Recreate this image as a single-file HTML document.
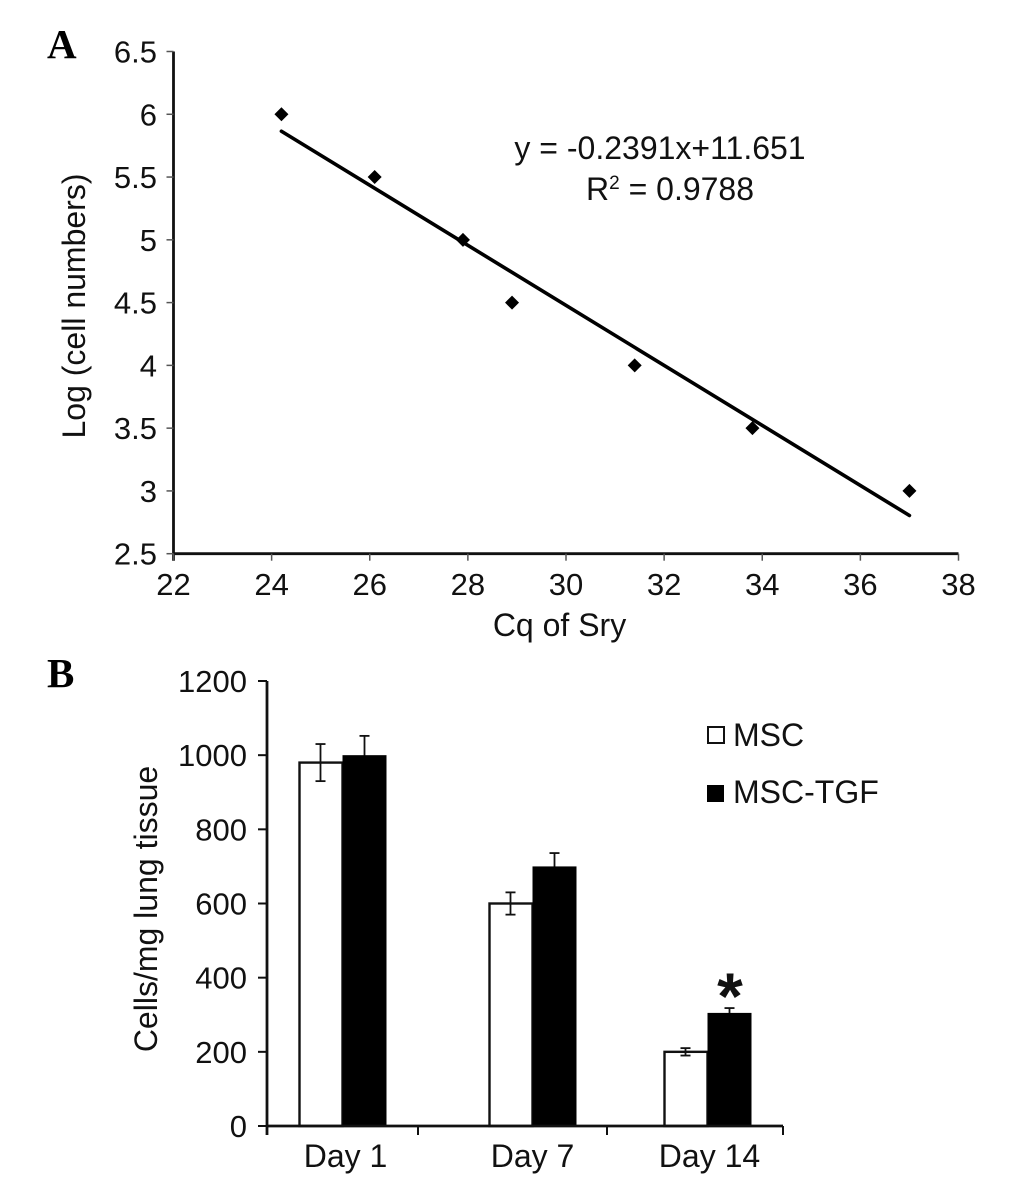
<!DOCTYPE html>
<html lang="en">
<head>
<meta charset="utf-8">
<title>Cell number standard curve and lung tissue cell counts</title>
<style>
html,body{margin:0;padding:0;background:#fff;}
svg{display:block;}
text{font-family:"Liberation Sans",sans-serif;fill:#111;}
.panel{font-family:"Liberation Serif",serif;font-weight:bold;font-size:41px;fill:#000;}
.t{font-size:31px;}
.h{font-size:32px;}
</style>
</head>
<body>
<svg id="fig" width="1033" height="1186" viewBox="0 0 1033 1186" xmlns="http://www.w3.org/2000/svg">
  <text class="panel" x="47" y="58">A</text>
  <text class="panel" x="47" y="687">B</text>
  <g id="chartA"></g>
  <text class="h" x="660" y="159" text-anchor="middle">y = -0.2391x+11.651</text>
  <text class="h" x="670" y="200" text-anchor="middle">R<tspan font-size="19" dy="-11">2</tspan><tspan dy="11"> = 0.9788</tspan></text>
  <text class="h" x="559.5" y="636" text-anchor="middle">Cq of Sry</text>
  <text class="h" transform="translate(85,306) rotate(-90)" text-anchor="middle">Log (cell numbers)</text>
  <g id="chartB"></g>
  <text class="h" transform="translate(157,909) rotate(-90)" text-anchor="middle">Cells/mg lung tissue</text>
  <rect x="708" y="727" width="16" height="16" fill="#fff" stroke="#111" stroke-width="2"></rect>
  <text class="h" x="733" y="746">MSC</text>
  <rect x="707" y="785" width="17" height="17" fill="#000"></rect>
  <text class="h" x="733" y="803">MSC-TGF</text>
  <text x="730" y="1019" text-anchor="middle" font-size="66" font-weight="bold">*</text>
</svg>
<script>
const cqValues = [24.2, 26.1, 27.9, 28.9, 31.4, 33.8, 37];
const logCells = [6, 5.5, 5, 4.5, 4, 3.5, 3];
const xTicksA = [22, 24, 26, 28, 30, 32, 34, 36, 38];
const yTicksA = [2.5, 3, 3.5, 4, 4.5, 5, 5.5, 6, 6.5];
const fitSlope = -0.2391;
const fitIntercept = 11.651;
const days = ['Day 1', 'Day 7', 'Day 14'];
const mscValues = [980, 600, 200];
const tgfValues = [1000, 700, 305];
const mscErrors = [50, 30, 10];
const tgfErrors = [52, 36, 13];
const yTicksB = [0, 200, 400, 600, 800, 1000, 1200];

const NS = 'http://www.w3.org/2000/svg';
function make(parent, tag, attrs, text) {
  const el = document.createElementNS(NS, tag);
  for (const k in attrs) el.setAttribute(k, attrs[k]);
  if (text !== undefined) el.textContent = text;
  parent.appendChild(el);
  return el;
}
const INK = '#111';

/* Panel A */
const gA = document.getElementById('chartA');
const xA = v => 173.5 + (v - 22) * (958.5 - 173.5) / 16;
const yA = v => 553.7 - (v - 2.5) * (553.7 - 51.5) / 4;

let el = make(gA, 'line', {x1: xA(22), x2: xA(38), y1: yA(2.5), y2: yA(2.5), stroke: INK, 'stroke-width': 2.8});


el = make(gA, 'line', {x1: xA(22), x2: xA(22), y1: yA(6.5), y2: yA(2.5) + 7, stroke: INK, 'stroke-width': 2.8});



xTicksA.forEach(t => {
  const tick = make(gA, 'line', {x1: xA(t), x2: xA(t), y1: yA(2.5), y2: yA(2.5) + 7, stroke: '#555', 'stroke-width': 1.5});
  
  
  const label = make(gA, 'text', {x: xA(t), y: 595, 'text-anchor': 'middle', class: 't'}, String(t));
  
  
});
yTicksA.forEach(t => {
  const tick = make(gA, 'line', {x1: xA(22) - 7, x2: xA(22), y1: yA(t), y2: yA(t), stroke: '#555', 'stroke-width': 1.5});
  
  
  const label = make(gA, 'text', {x: 157, y: yA(t) + 11, 'text-anchor': 'end', class: 't'}, String(t));
  
  
});

const xFirst = cqValues[0];
const xLast = cqValues[cqValues.length - 1];
el = make(gA, 'line', {
  x1: xA(xFirst), y1: yA(fitSlope * xFirst + fitIntercept),
  x2: xA(xLast), y2: yA(fitSlope * xLast + fitIntercept),
  stroke: '#000', 'stroke-width': 3.6, 'stroke-linecap': 'round'
});



cqValues.forEach((c, i) => {
  const px = xA(c), py = yA(logCells[i]), r = 7;
  const pt = make(gA, 'polygon', {
    points: [px, py - r, px + r, py, px, py + r, px - r, py].join(' '),
    fill: '#000'
  });
  
  
});

/* Panel B */
const gB = document.getElementById('chartB');
const yB = v => 1126 - v * (1126 - 681) / 1200;
function groupCentre(i) {
  return 342.5 + 182.5 * i + (i === 1 ? 7.5 : 0);
}
function boundary(i) {
  return 267 + 172 * i + (i === 1 ? -21 : i === 2 ? -4 : 0);
}
function labelCentre(i) {
  return groupCentre(i) + (i === 0 ? 3 : i === 1 ? 0 : 2);
}
const barW = 44;

function errorBar(cx, value, err, name) {
  const top = yB(value + err), bot = yB(value - err);
  const stem = make(gB, 'line', {x1: cx, x2: cx, y1: top, y2: bot, stroke: INK, 'stroke-width': 1.8});
  
  
  const capT = make(gB, 'line', {x1: cx - 5, x2: cx + 5, y1: top, y2: top, stroke: INK, 'stroke-width': 1.8});
  
  
  const capB = make(gB, 'line', {x1: cx - 5, x2: cx + 5, y1: bot, y2: bot, stroke: INK, 'stroke-width': 1.8});
  
  
}

days.forEach((d, i) => {
  const c = groupCentre(i);
  const m = make(gB, 'rect', {x: c - barW + 1, y: yB(mscValues[i]), width: barW - 1, height: yB(0) - yB(mscValues[i]), fill: '#fff', stroke: INK, 'stroke-width': 2.4});
  
  
  errorBar(c - barW / 2, mscValues[i], mscErrors[i], 'msc');
  errorBar(c + barW / 2, tgfValues[i], tgfErrors[i], 'tgf');
  const b = make(gB, 'rect', {x: c, y: yB(tgfValues[i]), width: barW, height: yB(0) - yB(tgfValues[i]), fill: '#000'});
  
  
  const label = make(gB, 'text', {x: labelCentre(i), y: 1167, 'text-anchor': 'middle', class: 'h'}, d);
  
  
});

el = make(gB, 'line', {x1: boundary(0), x2: boundary(3), y1: yB(0), y2: yB(0), stroke: INK, 'stroke-width': 2.8});


el = make(gB, 'line', {x1: 267, x2: 267, y1: yB(1200), y2: yB(0) + 9, stroke: INK, 'stroke-width': 2.8});



[0, 1, 2, 3].forEach(i => {
  const tick = make(gB, 'line', {x1: boundary(i), x2: boundary(i), y1: yB(0), y2: yB(0) + 9, stroke: INK, 'stroke-width': 2});
  
  
});
yTicksB.forEach(t => {
  const tick = make(gB, 'line', {x1: 258, x2: 267, y1: yB(t), y2: yB(t), stroke: INK, 'stroke-width': 2});
  
  
  const label = make(gB, 'text', {x: 247, y: yB(t) + 11, 'text-anchor': 'end', class: 't'}, String(t));
  
  
});
</script>
</body>
</html>
